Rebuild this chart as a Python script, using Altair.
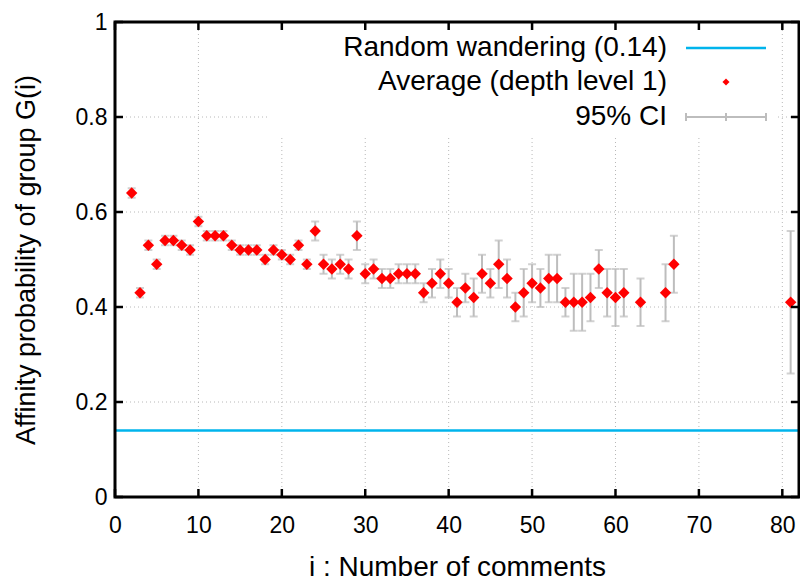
import altair as alt
import pandas as pd

# ---------------- data ----------------
comments = [2, 3, 4, 5, 6, 7, 8, 9, 10, 11, 12, 13, 14, 15, 16, 17, 18, 19, 20,
            21, 22, 23, 24, 25, 26, 27, 28, 29, 30, 31, 32, 33, 34, 35, 36, 37,
            38, 39, 40, 41, 42, 43, 44, 45, 46, 47, 48, 49, 50, 51, 52, 53, 54,
            55, 56, 57, 58, 59, 60, 61, 63, 66, 67, 81]
average = [0.64, 0.43, 0.53, 0.49, 0.54, 0.54, 0.53, 0.52, 0.58, 0.55, 0.55, 0.55,
           0.53, 0.52, 0.52, 0.52, 0.50, 0.52, 0.51, 0.50, 0.53, 0.49, 0.56, 0.49,
           0.48, 0.49, 0.48, 0.55, 0.47, 0.48, 0.46, 0.46, 0.47, 0.47, 0.47, 0.43,
           0.45, 0.47, 0.45, 0.41, 0.44, 0.42, 0.47, 0.45, 0.49, 0.46, 0.40, 0.43,
           0.45, 0.44, 0.46, 0.46, 0.41, 0.41, 0.41, 0.42, 0.48, 0.43, 0.42, 0.43,
           0.41, 0.43, 0.49, 0.41]
ci_low = [0.63, 0.42, 0.52, 0.48, 0.53, 0.53, 0.52, 0.51, 0.57, 0.54, 0.54, 0.54,
          0.52, 0.51, 0.51, 0.51, 0.49, 0.51, 0.50, 0.49, 0.52, 0.48, 0.54, 0.47,
          0.46, 0.47, 0.46, 0.52, 0.45, 0.46, 0.44, 0.44, 0.45, 0.45, 0.45, 0.41,
          0.42, 0.44, 0.42, 0.38, 0.41, 0.38, 0.43, 0.42, 0.44, 0.42, 0.37, 0.38,
          0.41, 0.40, 0.41, 0.41, 0.38, 0.35, 0.35, 0.37, 0.44, 0.38, 0.36, 0.38,
          0.36, 0.37, 0.43, 0.26]
ci_high = [0.65, 0.44, 0.54, 0.50, 0.55, 0.55, 0.54, 0.53, 0.59, 0.56, 0.56, 0.56,
           0.54, 0.53, 0.53, 0.53, 0.51, 0.53, 0.52, 0.51, 0.54, 0.50, 0.58, 0.51,
           0.50, 0.51, 0.50, 0.58, 0.49, 0.50, 0.48, 0.48, 0.49, 0.49, 0.49, 0.45,
           0.48, 0.50, 0.48, 0.44, 0.47, 0.46, 0.51, 0.48, 0.54, 0.50, 0.43, 0.48,
           0.49, 0.48, 0.51, 0.51, 0.44, 0.47, 0.47, 0.47, 0.52, 0.48, 0.48, 0.48,
           0.46, 0.49, 0.55, 0.56]
random_level = [0.14]
x_ticks = [0, 10, 20, 30, 40, 50, 60, 70, 80]
y_ticks = [0, 0.2, 0.4, 0.6, 0.8, 1]
x_grid = [10, 20, 30, 40, 50, 60, 70, 80]
y_grid = [0.2, 0.4, 0.6, 0.8]
legend_labels = ["Random wandering (0.14)", "Average (depth level 1)", "95% CI"]
x_title = "i : Number of comments"
y_title = "Affinity probability of group G(i)"

# ---------------- styling ----------------
W, H = 684, 475
FONT = "Liberation Sans"
CYAN = "#00b4ec"
RED = "#ff0000"
GRAY = "#bdbdbd"
GRIDC = "#b8b8b8"
TICKF = 23
BIGF = 28

df = pd.DataFrame({"i": comments, "avg": average, "lo": ci_low, "hi": ci_high})
xs = alt.Scale(domain=[0, 82], nice=False, zero=False)
ys = alt.Scale(domain=[0, 1], nice=False, zero=False)

X_AX = alt.Axis(values=x_ticks, title=x_title, grid=False, ticks=False, domain=False,
                labelFontSize=TICKF, labelFont=FONT, labelColor="black", labelPadding=17,
                labelFlush=False, titleFontSize=BIGF, titleFont=FONT, titleFontWeight="normal",
                titleColor="black", titleX=W / 2, titleY=70, titleBaseline="middle",
                titleAlign="center")
Y_AX = alt.Axis(values=y_ticks, title=y_title, grid=False, ticks=False, domain=False,
                labelFontSize=TICKF, labelFont=FONT, labelColor="black", labelPadding=8,
                labelFlush=False, labelExpr="datum.value == 0 || datum.value == 1 ? format(datum.value, 'd') : format(datum.value, '.1f')",
                titleFontSize=BIGF - 1, titleFont=FONT, titleFontWeight="normal", titleColor="black",
                titleAngle=-90, titleX=-89, titleY=H / 2, titleBaseline="middle",
                titleAlign="center")


def X(f):
    return alt.X(f, type="quantitative", scale=xs, axis=X_AX)


def Y(f):
    return alt.Y(f, type="quantitative", scale=ys, axis=Y_AX)


xg = pd.DataFrame({"g": x_grid})
yg = pd.DataFrame({"g": y_grid})
xt = pd.DataFrame({"t": x_ticks})
yt = pd.DataFrame({"t": y_ticks})

grid_x = alt.Chart(xg).mark_rule(color=GRIDC, strokeWidth=1, strokeDash=[1, 3]).encode(x=X("g"))
grid_y = alt.Chart(yg).mark_rule(color=GRIDC, strokeWidth=1, strokeDash=[1, 3]).encode(y=Y("g"))

legend_box = alt.Chart(pd.DataFrame({"k": [0]})).mark_rect(color="white").encode(
    x=alt.value(155), x2=alt.value(660), y=alt.value(3), y2=alt.value(113))

rand = alt.Chart(pd.DataFrame({"r": random_level})).mark_rule(
    color=CYAN, strokeWidth=2.5).encode(y=Y("r"))

err = alt.Chart(df).mark_rule(color=GRAY, strokeWidth=2).encode(x=X("i"), y=Y("lo"), y2="hi")
cap_lo = alt.Chart(df).mark_tick(color=GRAY, orient="horizontal", size=8, thickness=2).encode(
    x=X("i"), y=Y("lo"))
cap_hi = alt.Chart(df).mark_tick(color=GRAY, orient="horizontal", size=8, thickness=2).encode(
    x=X("i"), y=Y("hi"))
pts = alt.Chart(df).mark_point(shape="diamond", filled=True, color=RED, opacity=1, size=130).encode(
    x=X("i"), y=Y("avg"))

TW = 2.5
tick_b = alt.Chart(xt).mark_rule(color="black", strokeWidth=TW).encode(
    x=X("t"), y=alt.value(H), y2=alt.value(H - 8))
tick_t = alt.Chart(xt).mark_rule(color="black", strokeWidth=TW).encode(
    x=X("t"), y=alt.value(0), y2=alt.value(8))
tick_l = alt.Chart(yt).mark_rule(color="black", strokeWidth=TW).encode(
    y=Y("t"), x=alt.value(0), x2=alt.value(8))
tick_r = alt.Chart(yt).mark_rule(color="black", strokeWidth=TW).encode(
    y=Y("t"), x=alt.value(W), x2=alt.value(W - 8))

border = alt.Chart(pd.DataFrame({"k": [0]})).mark_rect(
    fill=None, stroke="black", strokeWidth=3, filled=False).encode(
    x=alt.value(0), x2=alt.value(W), y=alt.value(0), y2=alt.value(H))

LX = 552
rows = [26, 60, 95]
leg_text = [
    alt.Chart(pd.DataFrame({"t": [lab]})).mark_text(
        align="right", baseline="middle", fontSize=BIGF, font=FONT, color="black").encode(
        text="t:N", x=alt.value(LX), y=alt.value(ry))
    for lab, ry in zip(legend_labels, rows)
]
S0, S1, SM = 571, 651, 611
leg_line = alt.Chart(pd.DataFrame({"k": [0]})).mark_rule(color=CYAN, strokeWidth=2.5).encode(
    x=alt.value(S0), x2=alt.value(S1), y=alt.value(rows[0]))
leg_pt = alt.Chart(pd.DataFrame({"k": [0]})).mark_point(
    shape="diamond", filled=True, color=RED, opacity=1, size=50).encode(
    x=alt.value(SM), y=alt.value(rows[1]))
leg_ci = alt.Chart(pd.DataFrame({"k": [0]})).mark_rule(color=GRAY, strokeWidth=2).encode(
    x=alt.value(S0), x2=alt.value(S1), y=alt.value(rows[2]))
leg_ci_ticks = [
    alt.Chart(pd.DataFrame({"k": [0]})).mark_rule(color=GRAY, strokeWidth=2).encode(
        x=alt.value(px), y=alt.value(rows[2] - 4), y2=alt.value(rows[2] + 4))
    for px in (S0, SM, S1)
]

chart = alt.layer(
    grid_x, grid_y, legend_box, rand, err, cap_lo, cap_hi, pts,
    tick_b, tick_t, tick_l, tick_r, border,
    *leg_text, leg_line, leg_pt, leg_ci, *leg_ci_ticks,
).properties(
    width=W, height=H,
    autosize=alt.AutoSizeParams(type="none"),
    padding={"left": 115, "top": 22, "right": 1, "bottom": 85},
).configure_view(stroke=None).configure(background="white")

chart.save("out.html", embed_options={"renderer": "svg", "actions": False})
